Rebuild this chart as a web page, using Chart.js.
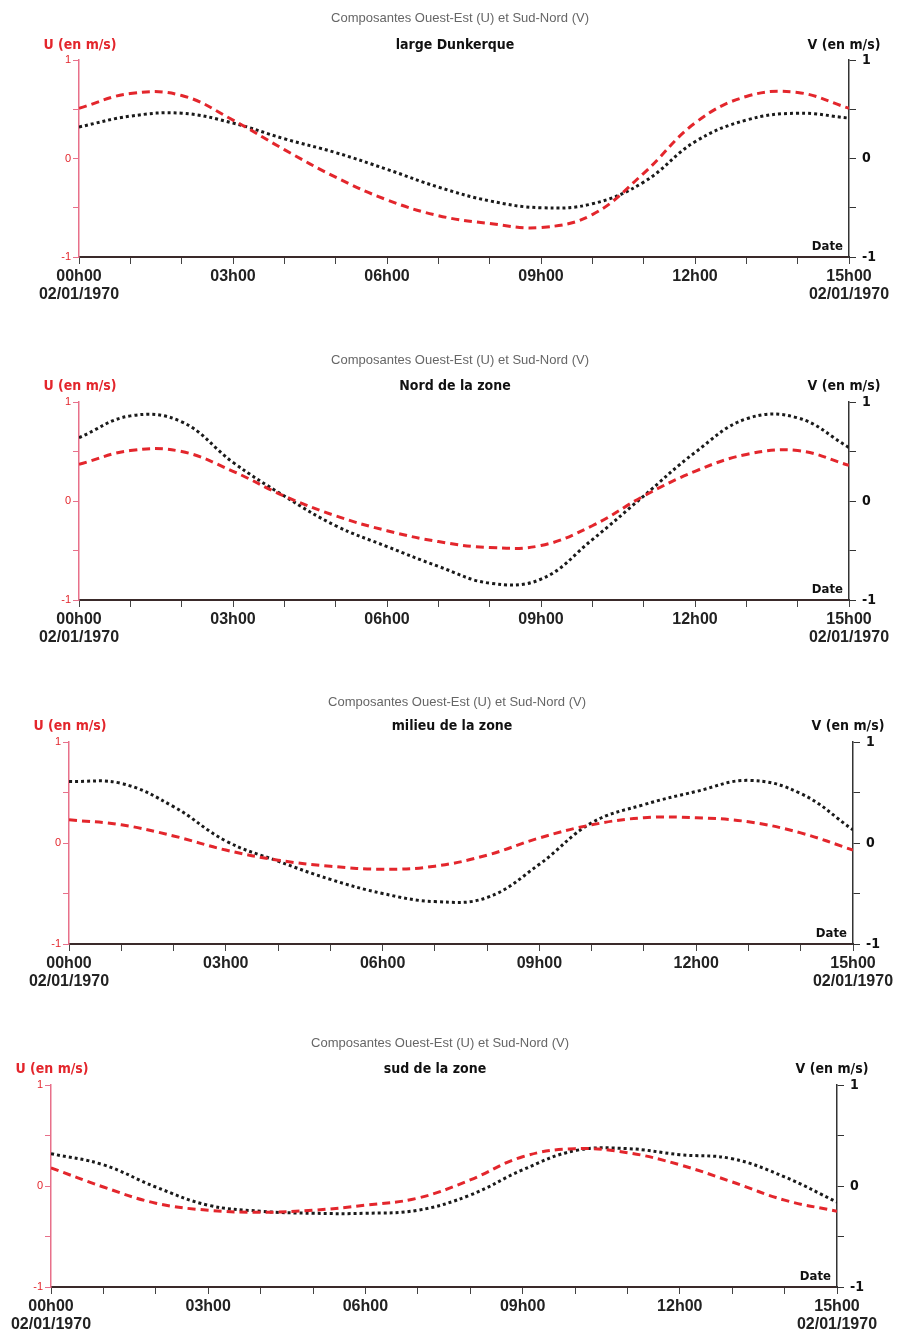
<!DOCTYPE html>
<html>
<head>
<meta charset="utf-8">
<script src="https://cdn.jsdelivr.net/npm/chart.js@4/dist/chart.umd.min.js"></script>
<style>
  html, body { margin: 0; padding: 0; background: #fff; }
  body { width: 903px; height: 1333px; position: relative; overflow: hidden; }
  .panel { position: absolute; left: 0; width: 903px; }
</style>
</head>
<body>
<div class="panel" id="p1"><canvas id="c1"></canvas></div>
<div class="panel" id="p2"><canvas id="c2"></canvas></div>
<div class="panel" id="p3"><canvas id="c3"></canvas></div>
<div class="panel" id="p4"><canvas id="c4"></canvas></div>
<script>
// heures depuis 00h00 le 02/01/1970
const hours = [0, 1, 2, 3, 4, 5, 6, 7, 8, 9, 10, 11, 12, 13, 14, 15]
const hourLabels = { 0: ['00h00', '02/01/1970'], 3: '03h00', 6: '06h00', 9: '09h00', 12: '12h00', 15: ['15h00', '02/01/1970'] }
const subtitle = 'Composantes Ouest-Est (U) et Sud-Nord (V)'
const zoneNames = ['large Dunkerque', 'Nord de la zone', 'milieu de la zone', 'sud de la zone']

// U (rouge, axe gauche) et V (noir, axe droit), en m/s
const uLarge = [0.51, 0.66, 0.64, 0.39, 0.09, -0.19, -0.42, -0.58, -0.66, -0.70, -0.57, -0.15, 0.36, 0.63, 0.67, 0.51]
const vLarge = [0.32, 0.43, 0.46, 0.36, 0.20, 0.06, -0.11, -0.29, -0.43, -0.50, -0.46, -0.24, 0.17, 0.39, 0.46, 0.41]
const uNord = [0.37, 0.51, 0.50, 0.30, 0.05, -0.15, -0.30, -0.41, -0.47, -0.45, -0.25, 0.05, 0.30, 0.47, 0.51, 0.36]
const vNord = [0.64, 0.86, 0.80, 0.39, 0.05, -0.25, -0.46, -0.66, -0.83, -0.79, -0.39, 0.05, 0.49, 0.83, 0.84, 0.54]
const uMilieu = [0.23, 0.18, 0.07, -0.07, -0.17, -0.23, -0.26, -0.23, -0.12, 0.05, 0.18, 0.25, 0.25, 0.21, 0.10, -0.07]
const vMilieu = [0.61, 0.59, 0.36, 0.02, -0.18, -0.36, -0.50, -0.58, -0.54, -0.21, 0.20, 0.38, 0.51, 0.62, 0.49, 0.13]
const uSud = [0.18, -0.01, -0.17, -0.24, -0.26, -0.24, -0.19, -0.12, 0.06, 0.29, 0.37, 0.33, 0.21, 0.04, -0.14, -0.25]
const vSud = [0.32, 0.21, -0.01, -0.19, -0.25, -0.27, -0.27, -0.24, -0.09, 0.16, 0.35, 0.37, 0.31, 0.27, 0.09, -0.16]

const uSeries = [uLarge, uNord, uMilieu, uSud]
const vSeries = [vLarge, vNord, vMilieu, vSud]

const RED = '#e3262c'
const NARROW = '"Liberation Sans Narrow", "DejaVu Sans Condensed", "Liberation Sans", sans-serif'
const SANS = '"Liberation Sans", Arial, sans-serif'

// placement of each panel on the page
const layout = [
  { top: 0, height: 308, left: 79, right: 849, plotTop: 60, plotBottom: 257, subY: 18, headY: 45 },
  { top: 340, height: 310, left: 79, right: 849, plotTop: 402, plotBottom: 600, subY: 360, headY: 386 },
  { top: 680, height: 315, left: 69, right: 853, plotTop: 742, plotBottom: 944, subY: 702, headY: 726 },
  { top: 1025, height: 308, left: 51, right: 837, plotTop: 1085, plotBottom: 1287, subY: 1043, headY: 1069 }
]

const labelsPlugin = {
  id: 'panelLabels',
  afterDraw(chart, args, opts) {
    const { ctx, chartArea } = chart
    const top = opts.top
    const mid = (chartArea.left + chartArea.right) / 2
    ctx.save()
    ctx.textBaseline = 'middle'
    ctx.textAlign = 'center'
    ctx.fillStyle = '#666'
    ctx.font = '13px ' + SANS
    ctx.fillText(subtitle, mid - 4, opts.subY - top)
    ctx.fillStyle = '#111'
    ctx.font = 'bold 14px ' + NARROW
    ctx.fillText(opts.name, mid - 9, opts.headY - top)
    ctx.fillStyle = RED
    ctx.fillText('U (en m/s)', chartArea.left + 1, opts.headY - top)
    ctx.fillStyle = '#111'
    ctx.fillText('V (en m/s)', chartArea.right - 5, opts.headY - top)
    ctx.textAlign = 'right'
    ctx.font = 'bold 13px ' + NARROW
    ctx.fillText('Date', chartArea.right - 6, chartArea.bottom - 10)
    ctx.restore()
  }
}

function makePanel(i) {
  const L = layout[i]
  const holder = document.getElementById('p' + (i + 1))
  holder.style.top = L.top + 'px'
  holder.style.height = L.height + 'px'

  const config = {
    type: 'line',
    data: {
      datasets: [
        {
          label: 'U',
          data: hours.map((h, k) => ({ x: h, y: uSeries[i][k] })),
          borderColor: RED,
          borderWidth: 3,
          borderDash: [8, 5],
          pointRadius: 0,
          tension: 0.4,
          yAxisID: 'yU'
        },
        {
          label: 'V',
          data: hours.map((h, k) => ({ x: h, y: vSeries[i][k] })),
          borderColor: '#1a1a1a',
          borderWidth: 3,
          borderDash: [3, 3],
          pointRadius: 0,
          tension: 0.4,
          yAxisID: 'yV'
        }
      ]
    },
    options: {
      responsive: false,
      animation: false,
      layout: { padding: { top: L.plotTop - L.top, left: 0, right: 0, bottom: 0 } },
      plugins: {
        legend: { display: false },
        tooltip: { enabled: false },
        panelLabels: { top: L.top, subY: L.subY, headY: L.headY, name: zoneNames[i] }
      },
      scales: {
        x: {
          type: 'linear',
          min: 0,
          max: 15,
          afterFit: s => { s.height = L.top + L.height - L.plotBottom },
          border: { display: true, color: '#3a2a2a', width: 2 },
          grid: { drawOnChartArea: false, drawTicks: true, tickLength: 7, tickColor: '#444', lineWidth: 1 },
          ticks: {
            stepSize: 1,
            autoSkip: false,
            maxRotation: 0,
            padding: 4,
            color: '#222',
            font: { family: SANS, size: 16, weight: 'bold', lineHeight: 1.12 },
            callback: v => hourLabels[v] || ''
          }
        },
        yU: {
          position: 'left',
          min: -1,
          max: 1,
          afterFit: s => { s.width = L.left },
          border: { display: true, color: '#e8708a', width: 1.5 },
          grid: { drawOnChartArea: false, tickLength: 6, tickColor: '#e8708a' },
          ticks: {
            stepSize: 0.5,
            padding: 2,
            color: RED,
            font: { family: SANS, size: 11 },
            callback: v => Number.isInteger(v) ? String(v) : ''
          }
        },
        yV: {
          position: 'right',
          min: -1,
          max: 1,
          afterFit: s => { s.width = 903 - L.right },
          border: { display: true, color: '#333', width: 1.5 },
          grid: { drawOnChartArea: false, tickLength: 7, tickColor: '#333' },
          ticks: {
            stepSize: 0.5,
            padding: 6,
            color: '#111',
            font: { family: NARROW, size: 14, weight: 'bold' },
            callback: v => Number.isInteger(v) ? String(v) : ''
          }
        }
      }
    },
    plugins: [labelsPlugin]
  }

  const canvas = document.getElementById('c' + (i + 1))
  canvas.width = 903
  canvas.height = L.height
  canvas.style.width = '903px'
  canvas.style.height = L.height + 'px'
  return new Chart(canvas, config)
}

const charts = [0, 1, 2, 3].map(makePanel)
</script>
</body>
</html>
